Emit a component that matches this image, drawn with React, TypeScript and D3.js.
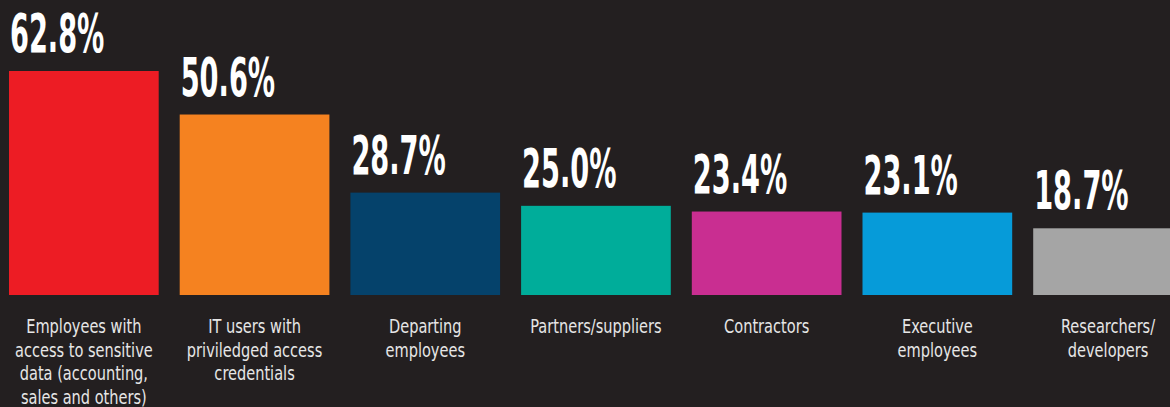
import React from "react";
import * as d3 from "d3";

const categories: string[][] = [
  ["Employees with", "access to sensitive", "data (accounting,", "sales and others)"],
  ["IT users with", "priviledged access", "credentials"],
  ["Departing", "employees"],
  ["Partners/suppliers"],
  ["Contractors"],
  ["Executive", "employees"],
  ["Researchers/", "developers"],
];
const values: number[] = [62.8, 50.6, 28.7, 25.0, 23.4, 23.1, 18.7];
const valueLabels: string[] = ["62.8%", "50.6%", "28.7%", "25.0%", "23.4%", "23.1%", "18.7%"];
const colors: string[] = ["#ed1c24", "#f58220", "#05426b", "#00ad9a", "#c92e91", "#069bd9", "#a5a5a5"];

const W = 1170;
const H = 407;
const BG = "#231f20";
const FONT = "'DejaVu Sans Condensed', 'DejaVu Sans', sans-serif";

export default function App() {
  const x = d3
    .scaleBand<number>()
    .domain(d3.range(values.length))
    .range([9, 9 + 170.7 * values.length - 21])
    .paddingInner(21 / 170.7)
    .paddingOuter(0);
  const y = d3.scaleLinear().domain([0, 62.8]).range([295, 71]);
  const sx = 0.56;
  const cx = 0.81;
  return (
    <div style={{ position: "fixed", left: 0, top: 0, width: W, height: H, background: BG }}>
      <svg width={W} height={H} style={{ display: "block" }}>
        <rect x={0} y={0} width={W} height={H} fill={BG} />
        {values.map((v, i) => {
          const bx = x(i)!;
          const bw = x.bandwidth();
          const top = y(v);
          return (
            <g key={i}>
              <rect x={bx} y={top} width={bw} height={y(0) - top} fill={colors[i]} />
              <text
                transform={`translate(${bx + 1},${top - 19}) scale(${sx},1)`}
                fill="#ffffff"
                fontFamily={FONT}
                fontWeight="bold"
                fontSize={54}
              >
                {valueLabels[i]}
              </text>
              {categories[i].map((line, j) => (
                <text
                  key={j}
                  transform={`translate(${bx + bw / 2},${333 + j * 23.5}) scale(${cx},1)`}
                  textAnchor="middle"
                  fill="#e6e6e6"
                  fontFamily={FONT}
                  fontSize={20}
                >
                  {line}
                </text>
              ))}
            </g>
          );
        })}
      </svg>
    </div>
  );
}
